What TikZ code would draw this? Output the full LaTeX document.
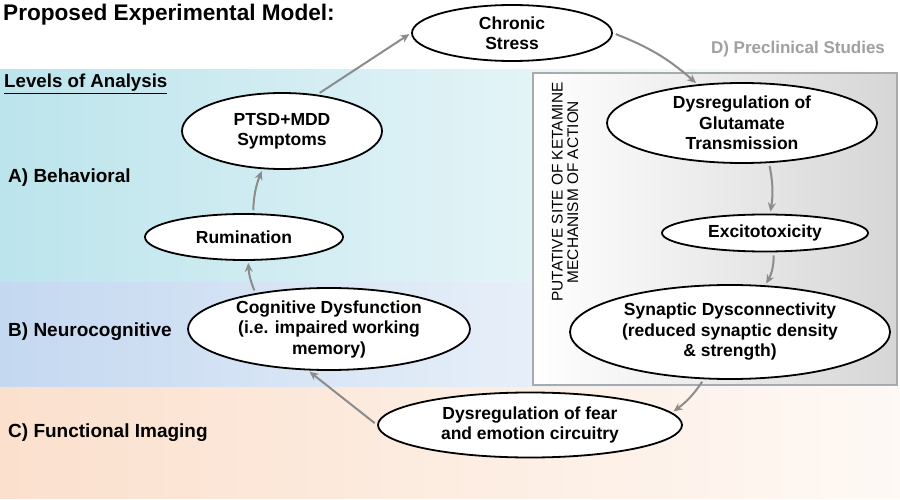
\documentclass[tikz,border=0pt]{standalone}
\usepackage{fontspec}
\setmainfont{Liberation Sans}
\usetikzlibrary{shapes.geometric,arrows.meta}
\definecolor{bandA}{RGB}{188,228,236}
\definecolor{bandB}{RGB}{196,216,240}
\definecolor{bandC}{RGB}{251,224,205}
\definecolor{linkgray}{RGB}{140,140,140}
\definecolor{boxgray}{RGB}{170,170,170}
\definecolor{boxshade}{RGB}{214,214,214}
\definecolor{labelgray}{RGB}{160,160,160}

\begin{document}
\begin{tikzpicture}[x=1pt,y=1pt,
    main/.style = {draw, ellipse, line width=1.8pt, fill=white, inner sep=0pt, align=center,
      font=\fontsize{17.5}{20.5}\selectfont\bfseries},
    link/.style = {draw=linkgray, line width=2pt, -{Stealth[length=9pt,width=8pt]},
      shorten <=3pt, shorten >=2pt},
    level/.style = {anchor=west, inner sep=0pt, font=\fontsize{19}{22}\selectfont\bfseries}]
  \useasboundingbox (0,0) rectangle (900,-500);
  \fill[white] (0,0) rectangle (900,-500);
  % background bands
  \shade[left color=bandA, right color=white] (0,-70) rectangle (900,-282);
  \shade[left color=bandB, right color=white] (0,-282) rectangle (900,-387);
  \shade[left color=bandC, right color=bandC!20] (0,-387) rectangle (900,-498);
  \shade[left color=white, right color=boxshade] (533,-73) rectangle (897,-385);
  \draw[boxgray, line width=1.5pt] (533,-73) rectangle (897,-385);

  \node[anchor=base west, inner sep=0pt, font=\fontsize{22.6}{26}\selectfont\bfseries]
    (title) at (3,-21) {Proposed Experimental Model:};
  \node[anchor=base west, inner sep=0pt, font=\fontsize{18.7}{22}\selectfont\bfseries]
    (levels) at (4,-88) {\underline{Levels of Analysis}};
  \node[level] (behav) at (8,-178) {A) Behavioral};
  \node[level] (neuro) at (8,-332) {B) Neurocognitive};
  \node[level] (imaging) at (8,-433) {C) Functional Imaging};
  \node[text=labelgray, font=\fontsize{17}{20}\selectfont\bfseries] (preclin) at (798,-49)
    {D) Preclinical Studies};
  \node[rotate=90, align=center, font=\fontsize{15.4}{15.5}\selectfont] (ketamine) at (565,-192)
    {PUTATIVE SITE OF KETAMINE\\MECHANISM OF ACTION};

  \node[main, minimum width=200pt, minimum height=56pt] (chronic) at (512,-33) {Chronic\\Stress};
  \node[main, minimum width=200pt, minimum height=76pt] (ptsd) at (282,-131) {PTSD+MDD\\Symptoms};
  \node[main, minimum width=198pt, minimum height=46pt] (rumination) at (244,-237) {Rumination};
  \node[main, minimum width=282pt, minimum height=82pt] (cognitive) at (329,-329)
    {Cognitive Dysfunction\\(i.e. impaired working\\memory)};
  \node[main, minimum width=304pt, minimum height=65pt] (fear) at (530,-425)
    {Dysregulation of fear\\and emotion circuitry};
  \node[main, minimum width=270pt, minimum height=80pt] (glutamate) at (742,-123)
    {Dysregulation of\\Glutamate\\Transmission};
  \node[main, minimum width=206pt, minimum height=37pt] (excito) at (765,-233) {Excitotoxicity};
  \node[main, minimum width=320pt, minimum height=94pt] (synaptic) at (730,-332)
    {Synaptic Dysconnectivity\\(reduced synaptic density\\\& strength)};

  \draw[link] (ptsd.46) -- (chronic.west);
  \draw[link] (chronic.east) to[bend left=10] (glutamate.139);
  \draw[link] (glutamate.-56) to[bend left=10] (excito.75);
  \draw[link] (excito.-66) to[bend left=15] (synaptic.53);
  \draw[link] (synaptic.241) to[bend left=10] (fear.5);
  \draw[link] (fear.west) -- (cognitive.243);
  \draw[link] (cognitive.154) to[bend left=10] (rumination.-80);
  \draw[link] (rumination.69) to[bend left=10] (ptsd.243);
\end{tikzpicture}
\end{document}
